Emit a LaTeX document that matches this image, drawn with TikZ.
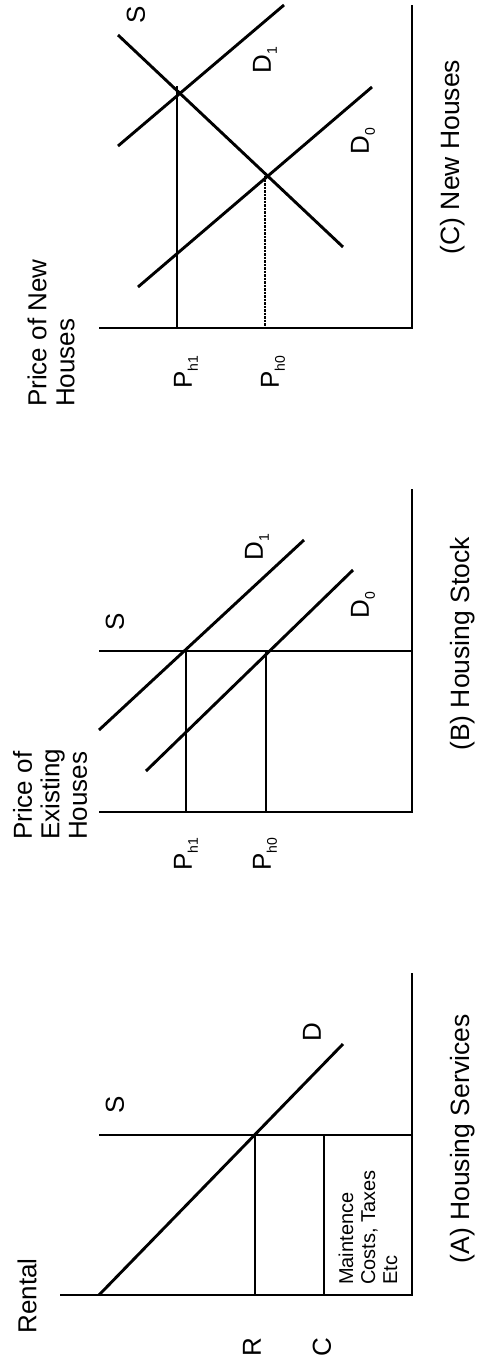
\documentclass[tikz,border=0pt]{standalone}
\usepackage{fontspec}
\setmainfont{Liberation Sans}
\newcommand{\subl}[1]{\raisebox{-6pt}{\fontsize{14}{14}\selectfont #1}}
\begin{document}
\begin{tikzpicture}[x=1pt,y=-1pt,
  ln/.style={line width=2.9pt},
  rlbl/.style={rotate=90, inner sep=0pt, font=\fontsize{26}{27.5}\selectfont},
  small/.style={rotate=90, inner sep=0pt, font=\fontsize{20}{22}\selectfont, align=left},
  ttl/.style={rotate=90, inner sep=0pt, font=\fontsize{26.5}{28}\selectfont}]
\useasboundingbox (0,0) rectangle (479,1371);
\fill[white] (0,0) rectangle (479,1371);

% ---------- Panel C: New Houses ----------
\coordinate (cO) at (412,328);
\coordinate (cP) at (99,328);
\coordinate (cQ) at (412,5);
\draw[ln] (cP) -- (cO) -- (cQ);
\coordinate (cS1) at (118,35);  \coordinate (cS2) at (343,247);
\coordinate (cDa1) at (118,146); \coordinate (cDa2) at (284,5);
\coordinate (cDb1) at (138,287); \coordinate (cDb2) at (372,87);
\draw[ln] (cS1) -- (cS2);
\draw[ln] (cDa1) -- (cDa2);
\draw[ln] (cDb1) -- (cDb2);
\coordinate (cE1) at (177,86); \coordinate (cE1b) at (177,328);
\coordinate (cE0) at (265,176); \coordinate (cE0b) at (265,328);
\draw[ln] (cE1) -- (cE1b);
\draw[ln, dash pattern=on 2.5pt off 1pt] (cE0) -- (cE0b);
\node[rlbl] (cSl) at (136,15) {S};
\node[rlbl] (cD1l) at (265,60) {D\subl{1}};
\node[rlbl] (cD0l) at (363,141) {D\subl{0}};
\node[rlbl] (cPh1) at (186,372) {P\subl{h1}};
\node[rlbl] (cPh0) at (273,372) {P\subl{h0}};
\node[rlbl, anchor=west, align=left, font=\fontsize{26}{28}\selectfont] (cAx) at (51,407) {Price of New\\Houses};
\node[ttl] (cT) at (453,157) {(C) New Houses};

% ---------- Panel B: Housing Stock ----------
\coordinate (bO) at (412,812);
\coordinate (bP) at (99,812);
\coordinate (bQ) at (412,489);
\draw[ln] (bP) -- (bO) -- (bQ);
\coordinate (bS1) at (99,651); \coordinate (bS2) at (412,651);
\draw[ln] (bS1) -- (bS2);
\coordinate (bDa1) at (99,730); \coordinate (bDa2) at (304,540);
\coordinate (bDb1) at (146,771); \coordinate (bDb2) at (353,570);
\draw[ln] (bDa1) -- (bDa2);
\draw[ln] (bDb1) -- (bDb2);
\coordinate (bE1) at (186,651); \coordinate (bE1b) at (186,812);
\coordinate (bE0) at (266,651); \coordinate (bE0b) at (266,812);
\draw[ln] (bE1) -- (bE1b);
\draw[ln] (bE0) -- (bE0b);
\node[rlbl] (bSl) at (115,622) {S};
\node[rlbl] (bD1l) at (257,547) {D\subl{1}};
\node[rlbl] (bD0l) at (363,605) {D\subl{0}};
\node[rlbl] (bPh1) at (186,854) {P\subl{h1}};
\node[rlbl] (bPh0) at (265,854) {P\subl{h0}};
\node[rlbl, anchor=west, align=left] (bAx) at (50,840) {Price of\\Existing\\Houses};
\node[ttl] (bT) at (463,644) {(B) Housing Stock};

% ---------- Panel A: Housing Services ----------
\coordinate (aO) at (412,1295);
\coordinate (aP) at (60,1295);
\coordinate (aQ) at (412,973);
\draw[ln] (aP) -- (aO) -- (aQ);
\coordinate (aS1) at (99,1135); \coordinate (aS2) at (412,1135);
\draw[ln] (aS1) -- (aS2);
\coordinate (aD1) at (99,1295); \coordinate (aD2) at (343,1044);
\draw[ln] (aD1) -- (aD2);
\coordinate (aR1) at (255,1135); \coordinate (aR2) at (255,1295);
\coordinate (aC1) at (324,1135); \coordinate (aC2) at (324,1295);
\draw[ln] (aR1) -- (aR2);
\draw[ln] (aC1) -- (aC2);
\node[rlbl] (aSl) at (115,1105) {S};
\node[rlbl] (aDl) at (312,1032) {D};
\node[rlbl] (aRl) at (252,1347) {R};
\node[rlbl] (aCl) at (322,1347) {C};
\node[rlbl] (aAx) at (27,1296) {Rental};
\node[small, anchor=west] (aMain) at (368,1285) {Maintence\\Costs, Taxes\\Etc};
\node[ttl] (aT) at (463,1139) {(A) Housing Services};
\end{tikzpicture}
\end{document}
